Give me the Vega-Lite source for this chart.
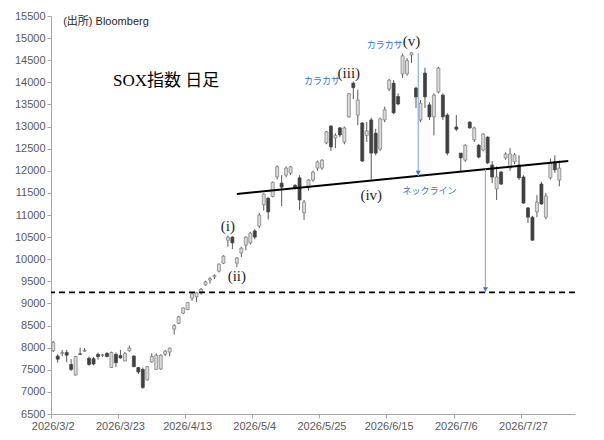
{
  "$schema": "https://vega.github.io/schema/vega-lite/v6.json",
  "width": 524,
  "height": 398,
  "autosize": {"type": "none"},
  "padding": {"left": 51, "top": 16, "right": 29, "bottom": 26},
  "background": "white",
  "config": {
    "view": {"stroke": null},
    "axis": {
      "domainColor": "#a6a6a6",
      "tickColor": "#a6a6a6",
      "labelColor": "#595959",
      "labelFont": "Liberation Sans",
      "labelFontSize": 11,
      "grid": false,
      "tickSize": 4,
      "labelPadding": 2,
      "labelOverlap": false
    }
  },
  "datasets": {
    "candles": [
      {"d": "2026-03-02", "o": 7930, "h": 8150, "l": 7900, "c": 8120},
      {"d": "2026-03-03", "o": 7810, "h": 7850, "l": 7660, "c": 7740},
      {"d": "2026-03-04", "o": 7870, "h": 7950, "l": 7810, "c": 7890},
      {"d": "2026-03-05", "o": 7890, "h": 7950, "l": 7670, "c": 7830},
      {"d": "2026-03-06", "o": 7620, "h": 7740, "l": 7470, "c": 7510},
      {"d": "2026-03-09", "o": 7380, "h": 7810, "l": 7370, "c": 7800},
      {"d": "2026-03-10", "o": 7860, "h": 8000, "l": 7840, "c": 7850},
      {"d": "2026-03-11", "o": 7920, "h": 7990, "l": 7900, "c": 7940},
      {"d": "2026-03-12", "o": 7760, "h": 7800, "l": 7590, "c": 7620},
      {"d": "2026-03-13", "o": 7750, "h": 7790, "l": 7600, "c": 7630},
      {"d": "2026-03-16", "o": 7850, "h": 7890, "l": 7730, "c": 7800},
      {"d": "2026-03-17", "o": 7820, "h": 7860, "l": 7790, "c": 7840},
      {"d": "2026-03-18", "o": 7870, "h": 7900, "l": 7780, "c": 7800},
      {"d": "2026-03-19", "o": 7550, "h": 7910, "l": 7540, "c": 7890},
      {"d": "2026-03-20", "o": 7850, "h": 7890, "l": 7560, "c": 7660},
      {"d": "2026-03-23", "o": 7820, "h": 7950, "l": 7750, "c": 7770},
      {"d": "2026-03-24", "o": 7700, "h": 7900, "l": 7690, "c": 7870},
      {"d": "2026-03-25", "o": 7930, "h": 8040, "l": 7910, "c": 7990},
      {"d": "2026-03-26", "o": 7810, "h": 7830, "l": 7560, "c": 7570},
      {"d": "2026-03-27", "o": 7550, "h": 7560, "l": 7400, "c": 7450},
      {"d": "2026-03-30", "o": 7510, "h": 7550, "l": 7070, "c": 7100},
      {"d": "2026-03-31", "o": 7270, "h": 7580, "l": 7260, "c": 7570},
      {"d": "2026-04-01", "o": 7680, "h": 7870, "l": 7660, "c": 7800},
      {"d": "2026-04-02", "o": 7510, "h": 7870, "l": 7500, "c": 7830},
      {"d": "2026-04-03", "o": 7520, "h": 7850, "l": 7500, "c": 7830},
      {"d": "2026-04-06", "o": 7850, "h": 7950, "l": 7810, "c": 7920},
      {"d": "2026-04-07", "o": 7900, "h": 8000, "l": 7800, "c": 7990},
      {"d": "2026-04-08", "o": 8420, "h": 8530, "l": 8300, "c": 8500},
      {"d": "2026-04-09", "o": 8550, "h": 8720, "l": 8530, "c": 8700},
      {"d": "2026-04-10", "o": 8780, "h": 8910, "l": 8760, "c": 8900},
      {"d": "2026-04-13", "o": 8860, "h": 9030, "l": 8850, "c": 9020},
      {"d": "2026-04-14", "o": 9120, "h": 9240, "l": 9060, "c": 9220},
      {"d": "2026-04-15", "o": 9150, "h": 9250, "l": 9030, "c": 9240},
      {"d": "2026-04-16", "o": 9240, "h": 9350, "l": 9200, "c": 9320},
      {"d": "2026-04-17", "o": 9420, "h": 9510, "l": 9400, "c": 9490},
      {"d": "2026-04-20", "o": 9530, "h": 9600, "l": 9450, "c": 9560},
      {"d": "2026-04-21", "o": 9600, "h": 9660, "l": 9550, "c": 9630},
      {"d": "2026-04-22", "o": 9730, "h": 9900, "l": 9700, "c": 9890},
      {"d": "2026-04-23", "o": 9910, "h": 10090, "l": 9890, "c": 10070},
      {"d": "2026-04-24", "o": 10430, "h": 10540, "l": 10280, "c": 10500},
      {"d": "2026-04-27", "o": 10500, "h": 10520, "l": 10230, "c": 10370},
      {"d": "2026-04-28", "o": 9910, "h": 10050, "l": 9820, "c": 10030},
      {"d": "2026-04-29", "o": 10140, "h": 10280, "l": 10050, "c": 10250},
      {"d": "2026-04-30", "o": 10320, "h": 10520, "l": 10200, "c": 10500},
      {"d": "2026-05-01", "o": 10370, "h": 10620, "l": 10330, "c": 10590},
      {"d": "2026-05-04", "o": 10640, "h": 10680, "l": 10450, "c": 10500},
      {"d": "2026-05-05", "o": 10750, "h": 11050, "l": 10700, "c": 11000},
      {"d": "2026-05-06", "o": 11230, "h": 11490, "l": 11100, "c": 11470},
      {"d": "2026-05-07", "o": 11380, "h": 11400, "l": 10900, "c": 11070},
      {"d": "2026-05-08", "o": 11420, "h": 11760, "l": 11400, "c": 11740},
      {"d": "2026-05-11", "o": 11860, "h": 12120, "l": 11800, "c": 12090},
      {"d": "2026-05-12", "o": 11720, "h": 11900, "l": 11200, "c": 11630},
      {"d": "2026-05-13", "o": 11900, "h": 12100, "l": 11850, "c": 12060},
      {"d": "2026-05-14", "o": 11950, "h": 12110, "l": 11900, "c": 12090},
      {"d": "2026-05-15", "o": 11670, "h": 11700, "l": 11580, "c": 11620},
      {"d": "2026-05-18", "o": 11840, "h": 11900, "l": 11110, "c": 11340},
      {"d": "2026-05-19", "o": 11050, "h": 11340, "l": 10890, "c": 11290},
      {"d": "2026-05-20", "o": 11610, "h": 11810, "l": 11550, "c": 11790},
      {"d": "2026-05-21", "o": 11790, "h": 12000, "l": 11750, "c": 11970},
      {"d": "2026-05-22", "o": 12060, "h": 12230, "l": 12000, "c": 12200},
      {"d": "2026-05-25", "o": 12060, "h": 12260, "l": 12020, "c": 12240},
      {"d": "2026-05-26", "o": 12630, "h": 12900, "l": 12600, "c": 12880},
      {"d": "2026-05-27", "o": 13010, "h": 13030, "l": 12450, "c": 12540},
      {"d": "2026-05-28", "o": 12740, "h": 12850, "l": 12510, "c": 12800},
      {"d": "2026-05-29", "o": 12970, "h": 12990, "l": 12760, "c": 12810},
      {"d": "2026-06-01", "o": 12650, "h": 13000, "l": 12600, "c": 12970},
      {"d": "2026-06-02", "o": 13220, "h": 13760, "l": 13200, "c": 13740},
      {"d": "2026-06-03", "o": 13980, "h": 14020, "l": 13620, "c": 13880},
      {"d": "2026-06-04", "o": 13260, "h": 13830, "l": 13030, "c": 13600},
      {"d": "2026-06-05", "o": 13080, "h": 13100, "l": 12200, "c": 12220},
      {"d": "2026-06-08", "o": 12800, "h": 13100, "l": 12650, "c": 12900},
      {"d": "2026-06-09", "o": 13150, "h": 13200, "l": 11800, "c": 12400},
      {"d": "2026-06-10", "o": 12850, "h": 12950, "l": 12350, "c": 12400},
      {"d": "2026-06-11", "o": 12490, "h": 13200, "l": 12450, "c": 13170},
      {"d": "2026-06-12", "o": 13150, "h": 13450, "l": 13100, "c": 13380},
      {"d": "2026-06-15", "o": 13850, "h": 14080, "l": 13800, "c": 14050},
      {"d": "2026-06-16", "o": 13980, "h": 14050, "l": 13280, "c": 13310},
      {"d": "2026-06-17", "o": 13680, "h": 13750, "l": 13480, "c": 13510},
      {"d": "2026-06-18", "o": 14190, "h": 14650, "l": 14100, "c": 14600},
      {"d": "2026-06-19", "o": 14190, "h": 14550, "l": 14150, "c": 14490},
      {"d": "2026-06-22", "o": 14620, "h": 14680, "l": 14440, "c": 14670},
      {"d": "2026-06-23", "o": 13870, "h": 13900, "l": 13420, "c": 13670},
      {"d": "2026-06-24", "o": 13150, "h": 13600, "l": 13100, "c": 13530},
      {"d": "2026-06-25", "o": 14210, "h": 14330, "l": 13420, "c": 13670},
      {"d": "2026-06-26", "o": 13490, "h": 13550, "l": 13150, "c": 13220},
      {"d": "2026-06-29", "o": 13220, "h": 13750, "l": 12800, "c": 13710},
      {"d": "2026-06-30", "o": 13780, "h": 14350, "l": 13750, "c": 14320},
      {"d": "2026-07-01", "o": 13710, "h": 13750, "l": 13150, "c": 13220},
      {"d": "2026-07-02", "o": 13260, "h": 13300, "l": 12350, "c": 12400},
      {"d": "2026-07-03"},
      {"d": "2026-07-06", "o": 12990, "h": 13260, "l": 12900, "c": 12940},
      {"d": "2026-07-07", "o": 12400, "h": 12400, "l": 11970, "c": 12290},
      {"d": "2026-07-08", "o": 12240, "h": 12600, "l": 12200, "c": 12580},
      {"d": "2026-07-09", "o": 13100, "h": 13120, "l": 12950, "c": 12970},
      {"d": "2026-07-10", "o": 12700, "h": 13000, "l": 12650, "c": 12970},
      {"d": "2026-07-13", "o": 12580, "h": 12600, "l": 12280, "c": 12310},
      {"d": "2026-07-14", "o": 12470, "h": 12850, "l": 12440, "c": 12830},
      {"d": "2026-07-15", "o": 12760, "h": 12780, "l": 12150, "c": 12180},
      {"d": "2026-07-16", "o": 12130, "h": 12220, "l": 11720, "c": 11860},
      {"d": "2026-07-17", "o": 11590, "h": 12100, "l": 11340, "c": 11860},
      {"d": "2026-07-20", "o": 11970, "h": 12000, "l": 11680, "c": 11700},
      {"d": "2026-07-21", "o": 12290, "h": 12420, "l": 12250, "c": 12380},
      {"d": "2026-07-22", "o": 12060, "h": 12510, "l": 12000, "c": 12380},
      {"d": "2026-07-23", "o": 12200, "h": 12400, "l": 12150, "c": 12360},
      {"d": "2026-07-24", "o": 12130, "h": 12350, "l": 11790, "c": 11840},
      {"d": "2026-07-27", "o": 11860, "h": 11900, "l": 11250, "c": 11270},
      {"d": "2026-07-28", "o": 11160, "h": 11180, "l": 10820, "c": 10950},
      {"d": "2026-07-29", "o": 10950, "h": 10980, "l": 10420, "c": 10430},
      {"d": "2026-07-30", "o": 11070, "h": 11450, "l": 10950, "c": 11290},
      {"d": "2026-07-31", "o": 11700, "h": 11750, "l": 11230, "c": 11250},
      {"d": "2026-08-03", "o": 10950, "h": 11500, "l": 10900, "c": 11430},
      {"d": "2026-08-04", "o": 11840, "h": 12280, "l": 11800, "c": 12180},
      {"d": "2026-08-05", "o": 12200, "h": 12350, "l": 11950, "c": 12020},
      {"d": "2026-08-06", "o": 11790, "h": 12230, "l": 11650, "c": 12060},
      {"d": "2026-08-07"},
      {"d": "2026-08-10"},
      {"d": "2026-08-11"}
    ],
    "support": [{"v": 9250}],
    "neck": [
      {"d": "2026-04-28", "v": 11475},
      {"d": "2026-08-10", "v": 12220}
    ],
    "arrows": [
      {"d": "2026-06-24", "top": 14660, "bot": 11883},
      {"d": "2026-07-15", "top": 12034, "bot": 9250}
    ],
    "source": [{"d": "2026-03-04", "v": 15360, "t": "(出所) Bloomberg"}],
    "title": [{"d": "2026-03-20", "v": 14040, "t": "SOX指数 日足"}],
    "waves": [
      {"d": "2026-04-24", "v": 10750, "t": "(i)"},
      {"d": "2026-04-28", "v": 9620, "t": "(ii)"},
      {"d": "2026-06-02", "v": 14220, "t": "(iii)"},
      {"d": "2026-06-09", "v": 11450, "t": "(iv)"},
      {"d": "2026-06-22", "v": 14930, "t": "(v)"}
    ],
    "notes": [
      {"d": "2026-05-25", "v": 14030, "t": "カラカサ"},
      {"d": "2026-06-12", "v": 14843, "t": "カラカサ"},
      {"d": "2026-06-26", "v": 11540, "t": "ネックライン"}
    ]
  },
  "encoding": {
    "y": {
      "type": "quantitative",
      "title": null,
      "scale": {"domain": [6500, 15500], "nice": false, "zero": false},
      "axis": {
        "values": [6500, 7000, 7500, 8000, 8500, 9000, 9500, 10000, 10500, 11000, 11500, 12000, 12500, 13000, 13500, 14000, 14500, 15000, 15500],
        "format": "d",
        "labelOverlap": false,
        "title": null
      }
    }
  },
  "layer": [
    {
      "data": {"name": "candles"},
      "mark": {"type": "rule", "opacity": 0},
      "encoding": {
        "y": null,
        "x": {
          "field": "d",
          "type": "ordinal",
          "title": null,
          "scale": {"type": "band", "paddingInner": 0, "paddingOuter": 0},
          "axis": {
            "values": ["2026-03-02", "2026-03-23", "2026-04-13", "2026-05-04", "2026-05-25", "2026-06-15", "2026-07-06", "2026-07-27"],
            "labelExpr": "utcFormat(toDate(datum.value), '%Y/%-m/%-d')",
            "labelAngle": 0,
            "bandPosition": 0,
            "title": null
          }
        }
      }
    },
    {
      "data": {"name": "candles"},
      "mark": {"type": "rule", "color": "#595959", "strokeWidth": 1},
      "encoding": {
        "x": {"field": "d", "type": "ordinal", "title": null},
        "y": {"field": "l"},
        "y2": {"field": "h"}
      }
    },
    {
      "data": {"name": "candles"},
      "mark": {"type": "bar", "size": 3, "strokeWidth": 0.7},
      "encoding": {
        "x": {"field": "d", "type": "ordinal", "title": null},
        "y": {"field": "o"},
        "y2": {"field": "c"},
        "fill": {"condition": {"test": "datum.c >= datum.o", "value": "#d9d9d9"}, "value": "#404040"},
        "stroke": {"condition": {"test": "datum.c >= datum.o", "value": "#7a7a7a"}, "value": "#404040"}
      }
    },
    {
      "data": {"name": "support"},
      "mark": {"type": "rule", "color": "black", "strokeWidth": 1.6, "strokeDash": [6, 4]},
      "encoding": {
        "y": {"field": "v"}
      }
    },
    {
      "data": {"name": "neck"},
      "mark": {"type": "line", "color": "black", "strokeWidth": 2},
      "encoding": {
        "x": {"field": "d", "type": "ordinal", "title": null},
        "y": {"field": "v"}
      }
    },
    {
      "data": {"name": "arrows"},
      "mark": {"type": "rule", "color": "#8fb0e6", "strokeWidth": 1.2},
      "encoding": {
        "x": {"field": "d", "type": "ordinal", "bandPosition": 0, "title": null},
        "y": {"field": "top"},
        "y2": {"field": "bot"}
      }
    },
    {
      "data": {"name": "arrows"},
      "mark": {"type": "point", "shape": "triangle-down", "filled": true, "color": "#4472c4", "size": 26, "opacity": 1, "yOffset": -3},
      "encoding": {
        "x": {"field": "d", "type": "ordinal", "bandPosition": 0, "title": null},
        "y": {"field": "bot"}
      }
    },
    {
      "data": {"name": "source"},
      "mark": {"type": "text", "align": "left", "baseline": "middle", "font": "Liberation Sans, Noto Sans CJK JP", "fontSize": 11, "color": "#262626", "dx": 1},
      "encoding": {
        "x": {"field": "d", "type": "ordinal", "title": null},
        "y": {"field": "v"},
        "text": {"field": "t"}
      }
    },
    {
      "data": {"name": "title"},
      "mark": {"type": "text", "align": "left", "baseline": "middle", "font": "Liberation Serif, Noto Sans CJK JP", "fontSize": 17, "color": "black", "dx": -3},
      "encoding": {
        "x": {"field": "d", "type": "ordinal", "title": null},
        "y": {"field": "v"},
        "text": {"field": "t"}
      }
    },
    {
      "data": {"name": "waves"},
      "mark": {"type": "text", "align": "center", "baseline": "middle", "font": "Liberation Serif", "fontSize": 15, "color": "#262626"},
      "encoding": {
        "x": {"field": "d", "type": "ordinal", "title": null},
        "y": {"field": "v"},
        "text": {"field": "t"}
      }
    },
    {
      "data": {"name": "notes"},
      "mark": {"type": "text", "align": "center", "baseline": "middle", "font": "Noto Sans CJK JP", "fontSize": 9, "color": "#2e75c6"},
      "encoding": {
        "x": {"field": "d", "type": "ordinal", "title": null},
        "y": {"field": "v"},
        "text": {"field": "t"}
      }
    }
  ]
}
